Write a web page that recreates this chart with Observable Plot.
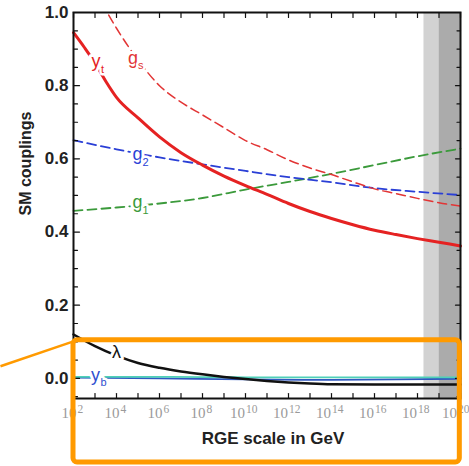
<!DOCTYPE html>
<html>
<head>
<meta charset="utf-8">
<script src="https://cdn.jsdelivr.net/npm/d3@7"></script>
<script src="https://cdn.jsdelivr.net/npm/@observablehq/plot@0.6"></script>
<style>
  html, body { margin: 0; padding: 0; background: #fff; overflow: hidden; }
  #chart svg { display: block; }
</style>
</head>
<body>
<div id="chart"></div>
<script>
// ---- data (x = log10 of RGE scale in GeV, y = coupling value) ----
const ytExp  = [2, 2.5, 3, 3.5, 4, 5, 6, 7, 8, 9, 10, 11, 12, 13, 14, 15, 16, 17, 18, 19, 20];
const ytVal  = [0.945, 0.905, 0.862, 0.812, 0.768, 0.712, 0.660, 0.617, 0.583, 0.553, 0.527, 0.503, 0.478, 0.456, 0.437, 0.420, 0.405, 0.393, 0.382, 0.372, 0.362];

const gsExp  = [3, 4, 5, 6, 7, 8, 9, 10, 11, 12, 13, 14, 15, 16, 17, 18, 19, 20];
const gsVal  = [1.06, 0.957, 0.870, 0.800, 0.755, 0.720, 0.685, 0.650, 0.625, 0.597, 0.575, 0.557, 0.537, 0.518, 0.505, 0.492, 0.480, 0.471];

const g2Exp  = [2, 4, 6, 8, 10, 12, 14, 16, 18, 20];
const g2Val  = [0.651, 0.626, 0.604, 0.585, 0.567, 0.550, 0.536, 0.520, 0.510, 0.501];

const g1Exp  = [2, 4, 6, 8, 10, 12, 14, 16, 18, 20];
const g1Val  = [0.458, 0.467, 0.478, 0.493, 0.516, 0.537, 0.559, 0.583, 0.607, 0.628];

const lamExp = [2, 3, 4, 5, 6, 7, 8, 9, 10, 11, 12, 13, 14, 16, 18, 20];
const lamVal = [0.120, 0.088, 0.062, 0.042, 0.029, 0.019, 0.011, 0.004, -0.002, -0.007, -0.011, -0.014, -0.016, -0.017, -0.017, -0.017];

const ybExp  = [2, 6, 10, 14, 17, 20];
const ybVal  = [0.002, 0.000, -0.003, -0.004, -0.003, -0.001];

const ytauExp = [2, 6, 10, 14, 17, 20];
const ytauVal = [0.004, 0.004, 0.003, 0.003, 0.003, 0.003];

// curve labels
const labelMain     = ["y", "g", "g", "g", "λ", "y"];
const labelSub      = ["t", "s", "2", "1", "", "b"];
const labelExp      = [3.05, 4.77, 4.98, 4.98, 4.0, 3.02];
const labelCoupling = [0.866, 0.876, 0.613, 0.481, 0.071, 0.0096];
const labelColor    = ["#e52222", "#e23535", "#2a3fd6", "#3b9a3b", "#111111", "#3050d0"];

// axis ticks
const xTickExp     = [2, 3, 4, 5, 6, 7, 8, 9, 10, 11, 12, 13, 14, 15, 16, 17, 18, 19, 20];
const xLabelExp    = [2, 4, 6, 8, 10, 12, 14, 16, 18, 20];
const yTickLabels  = [0.0, 0.2, 0.4, 0.6, 0.8, 1.0];

// shaded bands (GeV)
const bandLight = [2e18, 1e19];
const bandDark  = [1e19, 1e20];

// orange call-out (GeV, coupling)
const calloutBoxGeV = [1e2, 9.3e19];
const calloutBoxCoupling = [0.104, -0.23];
const calloutLeaderGeV = [0.04, 1e2];
const calloutLeaderCoupling = [0.033, 0.101];

// ---- build tables ----
const toRows = (exps, vals) => exps.map((e, i) => ({x: 10 ** e, y: vals[i]}));
const yt = toRows(ytExp, ytVal);
const gs = toRows(gsExp, gsVal);
const g2 = toRows(g2Exp, g2Val);
const g1 = toRows(g1Exp, g1Val);
const lam = toRows(lamExp, lamVal);
const yb = toRows(ybExp, ybVal);
const ytau = toRows(ytauExp, ytauVal);
const labels = labelMain.map((m, i) => ({m, s: labelSub[i], x: 10 ** labelExp[i], y: labelCoupling[i], c: labelColor[i]}));

const yMinor = d3.range(-1, 21).map(i => i * 0.05).filter(v => Math.abs(v / 0.2 - Math.round(v / 0.2)) > 1e-6);
const yMajor = yTickLabels;
const xTicks = xTickExp.map(e => 10 ** e);
const xLab1 = xLabelExp.filter(e => e < 10);
const xLab2 = xLabelExp.filter(e => e >= 10 && e < 20);
const xLab3 = xLabelExp.filter(e => e >= 20);

const tickShape = {draw(context, l) { context.moveTo(0, 0); context.lineTo(0, -l); }};
const SANS = "Liberation Sans, Arial, sans-serif";
const SERIF = "Liberation Serif, Times New Roman, serif";
const tickOpts = {shape: tickShape, anchor: "start", stroke: "#111", strokeWidth: 1.2};
const xBase = {frameAnchor: "bottom", textAnchor: "end", dy: 19, fontSize: 15, fill: "#9a9a9a", fontFamily: SERIF};
const xSup  = {frameAnchor: "bottom", textAnchor: "start", dy: 14.5, fontSize: 11.5, fill: "#9a9a9a", fontFamily: SERIF};

const chart = Plot.plot({
  width: 469,
  height: 466,
  marginLeft: 73,
  marginRight: 9,
  marginTop: 12,
  marginBottom: 68,
  style: {fontFamily: SANS, background: "#fff", overflow: "visible"},
  x: {type: "log", domain: [1e2, 1e20], axis: null},
  y: {domain: [-0.055, 1.0], axis: null},
  marks: [
    Plot.rect([bandLight], {x1: d => d[0], x2: d => d[1], fill: "#d2d2d2"}),
    Plot.rect([bandDark], {x1: d => d[0], x2: d => d[1], fill: "#ababab"}),

    Plot.line(yb, {x: "x", y: "y", stroke: "#2f58c0", strokeWidth: 1.8, curve: "monotone-x"}),
    Plot.line(ytau, {x: "x", y: "y", stroke: "#4fd0b8", strokeWidth: 1.8, curve: "monotone-x"}),
    Plot.line(lam, {x: "x", y: "y", stroke: "#111", strokeWidth: 2.5, curve: "monotone-x"}),
    Plot.line(g1, {x: "x", y: "y", stroke: "#3b9a3b", strokeWidth: 1.8, strokeDasharray: "9,5", curve: "monotone-x"}),
    Plot.line(g2, {x: "x", y: "y", stroke: "#2a3fd6", strokeWidth: 1.8, strokeDasharray: "9,5", curve: "monotone-x"}),
    Plot.line(gs, {x: "x", y: "y", stroke: "#e23535", strokeWidth: 1.5, strokeDasharray: "9,5", curve: "monotone-x", clip: true}),
    Plot.line(yt, {x: "x", y: "y", stroke: "#e52222", strokeWidth: 3, curve: "monotone-x"}),

    // curve labels with white halo
    Plot.text(labels, {x: "x", y: "y", text: "m", fill: "c", stroke: "white", strokeWidth: 6, paintOrder: "stroke",
      fontSize: 18, fontFamily: SANS, textAnchor: "middle", lineAnchor: "middle"}),
    Plot.text(labels, {x: "x", y: "y", text: "s", fill: "c", stroke: "white", strokeWidth: 5, paintOrder: "stroke",
      fontSize: 11, fontFamily: SANS, textAnchor: "start", lineAnchor: "middle", dx: 5, dy: 8}),

    Plot.frame({stroke: "#111", strokeWidth: 2}),

    // inward ticks
    Plot.vector(xTicks, {x: d => d, frameAnchor: "bottom", rotate: 0, length: 5, ...tickOpts}),
    Plot.vector(xTicks, {x: d => d, frameAnchor: "top", rotate: 180, length: 5, ...tickOpts}),
    Plot.vector(yMajor, {y: d => d, frameAnchor: "left", rotate: 90, length: 6, ...tickOpts}),
    Plot.vector(yMinor, {y: d => d, frameAnchor: "left", rotate: 90, length: 4, ...tickOpts}),
    Plot.vector(yMajor, {y: d => d, frameAnchor: "right", rotate: -90, length: 5, ...tickOpts}),
    Plot.vector(yMinor, {y: d => d, frameAnchor: "right", rotate: -90, length: 3.5, ...tickOpts}),

    // y tick labels
    Plot.text(yTickLabels, {y: d => d, text: d => d.toFixed(1), frameAnchor: "left", textAnchor: "end", dx: -5,
      fontSize: 17, fontWeight: "bold", fill: "#222", fontFamily: SANS}),

    // x tick labels 10^n
    Plot.text(xLab1, {x: e => 10 ** e, text: () => "10", dx: 3, ...xBase}),
    Plot.text(xLab1, {x: e => 10 ** e, text: e => String(e), dx: 4, ...xSup}),
    Plot.text(xLab2, {x: e => 10 ** e, text: () => "10", dx: -0.5, ...xBase}),
    Plot.text(xLab2, {x: e => 10 ** e, text: e => String(e), dx: 0.5, ...xSup}),
    Plot.text(xLab3, {x: e => 10 ** e, text: () => "10", dx: -3.5, ...xBase}),
    Plot.text(xLab3, {x: e => 10 ** e, text: e => String(e), dx: -2.5, ...xSup}),

    // axis titles
    Plot.text(["SM couplings"], {text: d => d, frameAnchor: "left", rotate: -90, dx: -48, dy: 10,
      fontSize: 16, fontWeight: "bold", fill: "#222", fontFamily: SANS}),
    Plot.text(["RGE scale in GeV"], {text: d => d, frameAnchor: "bottom", dx: 6, dy: 45,
      fontSize: 17, fontWeight: "bold", fill: "#222", fontFamily: SANS}),

    // orange call-out
    Plot.link([0], {x1: () => calloutLeaderGeV[0], x2: () => calloutLeaderGeV[1],
      y1: () => calloutLeaderCoupling[0], y2: () => calloutLeaderCoupling[1], stroke: "#ff9a00", strokeWidth: 2.5}),
    Plot.rect([0], {x1: () => calloutBoxGeV[0], x2: () => calloutBoxGeV[1],
      y1: () => calloutBoxCoupling[0], y2: () => calloutBoxCoupling[1],
      fill: "none", stroke: "#ff9a00", strokeWidth: 5, rx: 4})
  ]
});
document.getElementById("chart").appendChild(chart);
</script>
</body>
</html>
